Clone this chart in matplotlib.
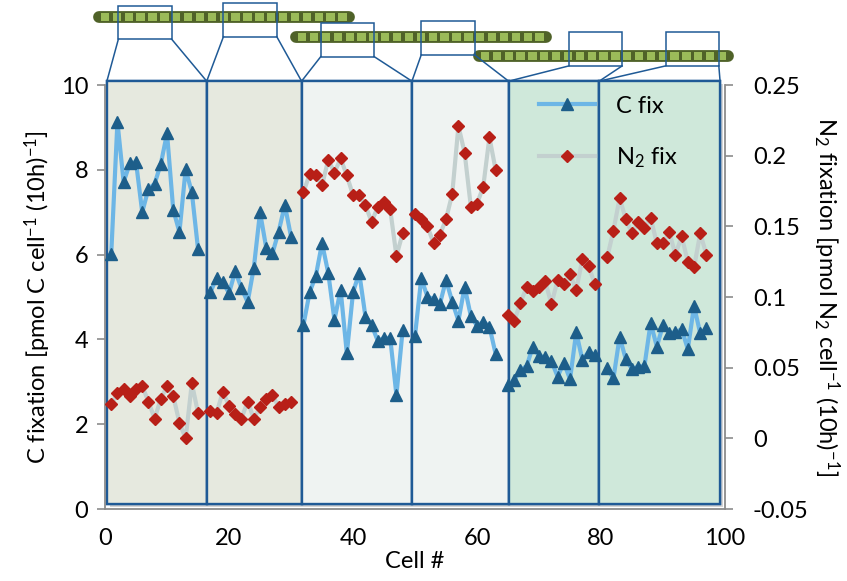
import numpy as np
import matplotlib
matplotlib.use('Agg')
import matplotlib.pyplot as plt
from matplotlib.patches import Rectangle
import matplotlib.patheffects as pe

plt.rcParams['font.family'] = ['Lato', 'DejaVu Sans']
plt.rcParams['mathtext.fontset'] = 'custom'
plt.rcParams['mathtext.rm'] = 'Lato'
plt.rcParams['mathtext.it'] = 'Lato:italic'
plt.rcParams['mathtext.bf'] = 'Lato:bold'

# first cell number of each imaged filament segment
seg_start = [1, 17, 32, 50, 65, 81]

# C fixation, pmol C cell-1 (10h)-1
c_fix = [
    [6.01, 9.13, 7.71, 8.15, 8.18, 7.00, 7.55, 7.67, 8.14, 8.86, 7.06, 6.53, 8.01, 7.47, 6.13],
    [5.11, 5.46, 5.35, 5.09, 5.61, 5.21, 4.88, 5.69, 7.00, 6.16, 6.03, 6.54, 7.17, 6.42],
    [4.34, 5.11, 5.50, 6.27, 5.57, 4.46, 5.17, 3.67, 5.11, 5.57, 4.54, 4.34, 3.96, 4.04, 4.03, 2.69, 4.22],
    [4.09, 5.44, 5.01, 4.95, 4.83, 5.40, 4.89, 4.44, 5.24, 4.55, 4.32, 4.42, 4.30, 3.66],
    [2.92, 3.04, 3.28, 3.37, 3.83, 3.61, 3.58, 3.49, 3.12, 3.45, 3.06, 4.17, 3.51, 3.71, 3.63],
    [3.32, 3.08, 4.06, 3.53, 3.30, 3.36, 3.37, 4.39, 3.83, 4.34, 4.14, 4.17, 4.24, 3.77, 4.79, 4.14, 4.26],
]

# N2 fixation, pmol N2 cell-1 (10h)-1
n2_fix = [
    [0.024, 0.032, 0.035, 0.030, 0.035, 0.037, 0.026, 0.014, 0.028, 0.037, 0.030, 0.011, 0.000, 0.039, 0.018],
    [0.019, 0.018, 0.033, 0.023, 0.017, 0.014, 0.026, 0.014, 0.022, 0.028, 0.031, 0.022, 0.024, 0.026],
    [0.174, 0.187, 0.186, 0.179, 0.197, 0.188, 0.198, 0.186, 0.172, 0.172, 0.165, 0.153, 0.164, 0.167, 0.162, 0.129, 0.145],
    [0.159, 0.155, 0.150, 0.138, 0.144, 0.155, 0.173, 0.221, 0.202, 0.164, 0.166, 0.178, 0.213, 0.190],
    [0.087, 0.083, 0.096, 0.107, 0.104, 0.107, 0.111, 0.095, 0.112, 0.109, 0.116, 0.105, 0.127, 0.122, 0.109],
    [0.128, 0.147, 0.170, 0.155, 0.145, 0.153, 0.149, 0.156, 0.138, 0.138, 0.146, 0.130, 0.143, 0.125, 0.121, 0.145, 0.130],
]

# panel borders (cell #) and fill colours
dividers = [0.3, 16.4, 31.7, 49.5, 65.1, 79.7, 99.2]
panel_colors = ['#E6E9DF', '#E6E9DF', '#EFF3F2', '#EFF3F2', '#CFE8DA', '#CFE8DA']

# filament sketch on top (in cell # / left-axis units)
fil_x = [(-1.0, 39.3), (30.8, 71.1), (60.3, 100.5)]
fil_y = [11.60, 11.13, 10.69]
zoom_x = [2.15, 19.1, 34.8, 51.0, 74.8, 90.4]
zoom_y = [11.08, 11.14, 10.67, 10.71, 10.45, 10.45]

BLUE = '#1F5A96'

fig = plt.figure(figsize=(8.47, 5.81), dpi=100)
ax = fig.add_axes([0.124, 0.1239, 0.732, 0.7298])
ax2 = ax.twinx()

shadow = [pe.withSimplePatchShadow(offset=(2, -2), shadow_rgbFace='#888888', alpha=0.35), pe.Normal()]
for i in range(6):
    r = Rectangle((dividers[i], 0.12), dividers[i+1] - dividers[i], 10.09 - 0.12,
                  facecolor=panel_colors[i], edgecolor=BLUE, lw=1.7, zorder=0.5, clip_on=False)
    r.set_path_effects(shadow)
    ax.add_patch(r)

for i in range(6):
    x = np.arange(seg_start[i], seg_start[i] + len(c_fix[i]))
    lc, = ax.plot(x, c_fix[i], color='#6DB6E6', lw=3, marker='^', ms=8,
                  mfc='#1D5E8A', mec='#1D5E8A', zorder=3)
    ln, = ax2.plot(x, n2_fix[i], color='#C3D0CF', lw=3, marker='D', ms=6.5,
                   mfc='#B81F17', mec='#B81F17', zorder=3)
lc.set_label('C fix')
ln.set_label('N$_2$ fix')

# filaments and zoom boxes
for (x0, x1), y in zip(fil_x, fil_y):
    ax.plot([x0, x1], [y, y], color='#4F6228', lw=8.5, solid_capstyle='round', clip_on=False, zorder=5)
    xs = np.linspace(x0 + 1.0, x1 - 1.0, 21)
    ax.scatter(xs, np.full(len(xs), y), marker='s', s=36, c='#9BBB59', edgecolors='none',
               clip_on=False, zorder=6)
for i in range(6):
    bx, by = zoom_x[i], zoom_y[i]
    ax.add_patch(Rectangle((bx, by), 8.6, 0.79, fill=False, edgecolor=BLUE, lw=1.1,
                           clip_on=False, zorder=7))
    ax.plot([bx, dividers[i]], [by, 10.09], color=BLUE, lw=1.1, clip_on=False, zorder=7)
    ax.plot([bx + 8.6, dividers[i+1]], [by, 10.09], color=BLUE, lw=1.1, clip_on=False, zorder=7)

ax.set_xlim(0, 100)
ax.set_ylim(0, 10)
ax2.set_ylim(-0.05, 0.25)
ax.set_xticks(np.arange(0, 101, 20))
ax.set_yticks(np.arange(0, 11, 2))
r_ticks = [-0.05, 0, 0.05, 0.1, 0.15, 0.2, 0.25]
ax2.set_yticks(r_ticks)
ax2.set_yticklabels(['-0.05', '0', '0.05', '0.1', '0.15', '0.2', '0.25'])

for a in (ax, ax2):
    a.spines['top'].set_visible(False)
    for s in a.spines.values():
        s.set_color('#8C8C8C')
        s.set_linewidth(1.3)
ax.spines['right'].set_visible(False)
ax2.spines['left'].set_visible(False)
ax2.spines['bottom'].set_visible(False)
ax.tick_params(axis='y', length=6, width=1.2, color='#8C8C8C', labelsize=17, pad=6)
ax.tick_params(axis='x', length=0, labelsize=17, pad=14)
ax2.tick_params(axis='y', length=6, width=1.2, color='#8C8C8C', labelsize=17, pad=14)

ax.set_xlabel('Cell #', fontsize=17, labelpad=1)
ax.set_ylabel('C fixation [pmol C cell$^{-1}$ (10h)$^{-1}$]', fontsize=17, labelpad=6)
ax2.set_ylabel('N$_2$ fixation [pmol N$_2$ cell$^{-1}$ (10h)$^{-1}$]', fontsize=17,
               rotation=270, labelpad=24)

ax2.legend(handles=[lc, ln], loc='upper left', bbox_to_anchor=(0.665, 1.025), frameon=False,
           fontsize=17, handlelength=2.4, handletextpad=0.9, labelspacing=1.2)

fig.savefig('out.png', dpi=100)
